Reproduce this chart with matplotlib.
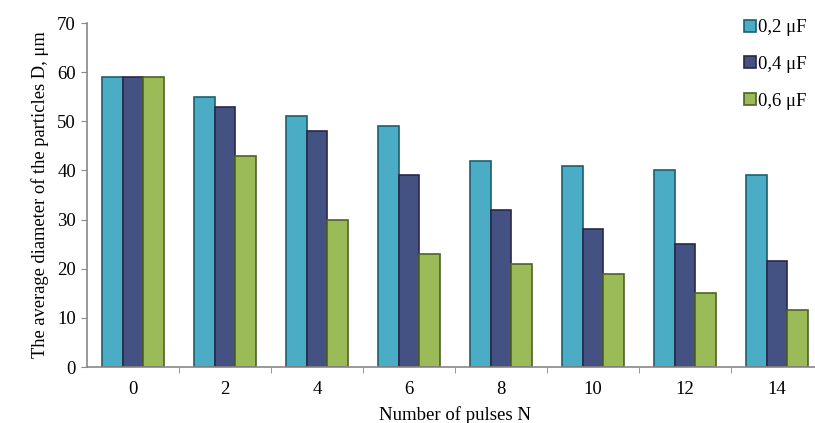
import numpy as np
import matplotlib
matplotlib.use('Agg')
import matplotlib.pyplot as plt
from matplotlib.patches import Patch

plt.rcParams['font.family'] = ['Liberation Serif', 'DejaVu Serif']

pulses = ['0', '2', '4', '6', '8', '10', '12', '14']
c02 = [59, 55, 51, 49, 42, 41, 40, 39]
c04 = [59, 53, 48, 39, 32, 28, 25, 21.5]
c06 = [59, 43, 30, 23, 21, 19, 15, 11.5]
labels = ['0,2 \u03bcF', '0,4 \u03bcF', '0,6 \u03bcF']
fills = ['#4BACC6', '#435183', '#9BBB59']
edges = ['#1F5F6E', '#2A2848', '#4F6228']

fig = plt.figure(figsize=(8.15, 4.23), dpi=100)
ax = fig.add_axes([87/815, 1-367/423, 736/815, 344/423])

x = np.arange(len(pulses))
w = 0.225
for i, vals in enumerate([c02, c04, c06]):
    ax.bar(x + (i-1)*w, vals, w, color=fills[i], edgecolor=edges[i], linewidth=1.2)

ax.set_xlim(-0.5, len(pulses)-0.5)
ax.set_ylim(0, 70)
ax.set_yticks(range(0, 71, 10))
ax.set_xticks(x)
ax.set_xticklabels(pulses)
ax.set_xticks(np.arange(0.5, len(pulses)-0.5, 1), minor=True)
ax.tick_params(axis='x', which='major', length=0, labelsize=13.5, pad=10)
ax.tick_params(axis='x', which='minor', length=4, color='#888888', direction='out')
ax.tick_params(axis='y', length=4, color='#888888', labelsize=13.5, pad=4)
for s in ['top', 'right']:
    ax.spines[s].set_visible(False)
for s in ['left', 'bottom']:
    ax.spines[s].set_color('#888888')
    ax.spines[s].set_linewidth(1.2)

ax.set_ylabel('The average diameter of the particles D, \u03bcm', fontsize=13.3, labelpad=6)
ax.set_xlabel('Number of pulses N', fontsize=13.5, labelpad=6)

handles = [Patch(facecolor=fills[i], edgecolor=edges[i], linewidth=1.2) for i in range(3)]
fig.legend(handles, labels, loc='upper left', bbox_to_anchor=(735/815, 1-10/423),
           frameon=False, fontsize=13.5, handlelength=0.6, handleheight=0.6,
           handletextpad=0.15, labelspacing=1.05, borderpad=0)

fig.savefig('out.png', dpi=100)
